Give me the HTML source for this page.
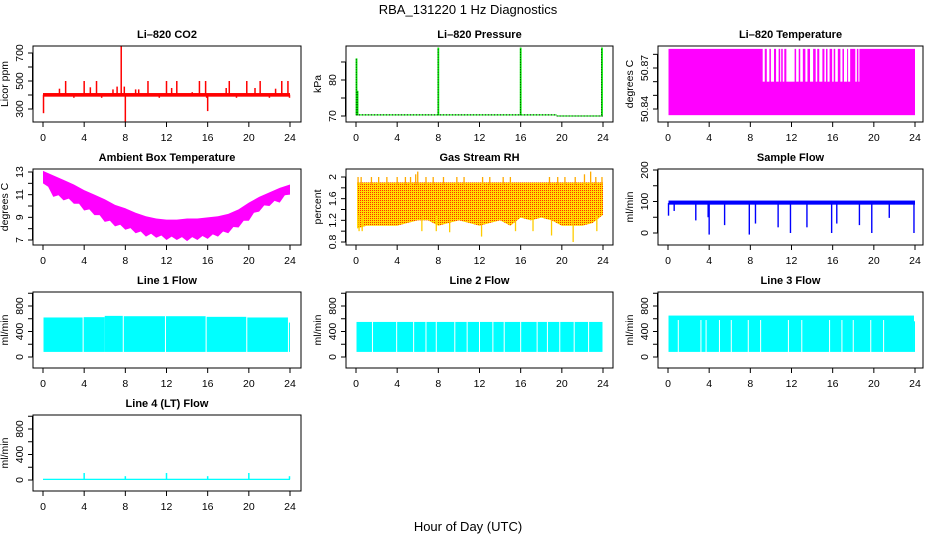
<!DOCTYPE html>
<html><head><meta charset="utf-8">
<style>
html,body{margin:0;padding:0;background:#fff;}
svg{display:block;font-family:"Liberation Sans",Arial,sans-serif;}
</style></head>
<body>
<svg id="chart" width="936" height="540" viewBox="0 0 936 540" xmlns="http://www.w3.org/2000/svg">
<defs>
<pattern id="rhpat" width="2" height="2" patternUnits="userSpaceOnUse">
<rect width="2" height="2" fill="#ffdd00"/><rect width="1" height="1" fill="#ff3000"/>
</pattern>
</defs>
<text x="468" y="14" text-anchor="middle" font-size="13">RBA_131220  1 Hz Diagnostics</text>
<text x="468" y="531" text-anchor="middle" font-size="13">Hour of Day (UTC)</text>
</svg>
<script>
// ---------- data ----------
const xTicks = [0,4,8,12,16,20,24];
// CO2
const co2Base = [388,414];
const co2Spikes = [[0.05,270],[0.1,410],[1.6,445],[2.2,500],[3.0,380],[4.0,500],[4.6,455],[5.2,500],[5.7,380],[6.8,440],[7.2,460],[7.6,750],[7.9,460],[8.0,210],[9.0,440],[9.3,440],[10.2,500],[11.3,380],[12.0,500],[12.5,450],[13.0,500],[14.5,420],[15.2,500],[15.8,500],[15.9,380],[16.0,285],[17.8,450],[18.1,500],[18.8,380],[19.8,500],[20.6,450],[21.1,500],[22.0,380],[22.6,445],[23.2,500],[23.8,500],[23.95,380]];
// Pressure
const presBase = [[0,19.5,70.3],[19.5,24,70.0]];
const presSpikes = [[0.05,86],[0.15,77],[8.0,89],[16.0,89],[23.9,89]];
// Li-820 temperature
const tempLo = 50.8355, tempHi = 50.884, tempMid = 50.86;
const tempGaps = [[9.2,9.4],[9.6,9.85],[10.0,10.3],[10.5,10.75],[10.9,11.0],[11.15,11.3],[11.5,12.3],[12.45,12.7],[12.85,13.1],[13.35,13.55],[13.8,14.1],[14.35,14.5],[14.7,15.0],[15.2,15.35],[15.5,15.7],[15.95,16.1],[16.25,16.5],[16.75,16.95],[17.1,17.4],[17.5,17.7],[18.2,18.35],[18.5,18.6]];
// Ambient box temperature (hourly envelope)
const ambTop = [13.1,12.7,12.3,11.9,11.4,11.0,10.6,10.1,9.8,9.4,9.1,8.9,8.8,8.8,8.9,8.9,9.0,9.1,9.3,9.7,10.3,10.8,11.2,11.6,11.9];
const ambBot = [12.0,10.8,10.5,10.2,9.6,9.2,8.6,8.2,7.9,7.6,7.3,7.2,7.0,7.0,6.9,7.0,7.1,7.3,7.6,8.1,8.7,9.5,10.0,10.3,11.0];
// Gas stream RH
const rhTop = 1.9;
const rhLow = [1.05,1.1,1.1,1.1,1.1,1.15,1.2,1.2,1.1,1.15,1.2,1.15,1.1,1.15,1.2,1.1,1.25,1.2,1.25,1.2,1.1,1.1,1.1,1.15,1.3];
const rhDips = [[0.3,1.0],[0.6,1.0],[6.4,1.0],[7.8,1.0],[9.1,0.98],[12.2,0.9],[15.5,1.0],[17.2,1.0],[19.0,0.92],[21.1,0.8],[23.4,1.0]];
const rhPeaks = [[0.2,2.0],[0.5,2.0],[1.5,2.0],[2.2,2.0],[3.0,2.0],[4.0,2.0],[4.8,2.0],[5.3,2.0],[5.8,2.05],[6.0,2.1],[6.8,2.0],[7.5,2.0],[8.5,2.0],[9.8,2.0],[10.5,2.0],[12.3,2.0],[13.0,2.0],[14.3,2.0],[15.0,2.0],[18.8,2.0],[19.6,2.0],[20.3,2.0],[21.3,2.0],[22.2,2.05],[22.8,2.1],[23.3,2.0],[23.9,2.0]];
// Sample flow
const sfBase = [90,103];
const sfDips = [[0.05,55],[0.6,70],[2.7,40],[3.9,50],[4.0,-5],[5.5,25],[7.9,-5],[8.5,30],[10.7,18],[11.9,0],[13.5,18],[15.9,0],[16.4,30],[18.6,25],[19.8,0],[21.5,48],[23.9,0]];
// Line flows
const l1Segs = [[0.05,3.85,620],[3.95,6.0,625],[6.0,7.75,645],[7.85,11.85,640],[11.95,15.8,640],[15.9,19.75,630],[19.85,23.8,620],[23.9,24.0,540]];
const l1Low = 80;
const l2Segs = [[0.05,23.95,550]];
const l2Gaps = [1.6,3.95,5.6,6.8,7.8,9.6,10.8,12.0,13.3,14.4,16.0,17.6,18.6,19.8,21.2,22.6];
const l2Low = 80;
const l3Segs = [[0.05,23.9,650],[23.9,24.0,560]];
const l3Gaps = [1.0,3.2,3.7,5.0,6.15,7.8,9.0,11.7,13.0,15.7,16.9,18.0,19.7,20.95];
const l3Low = 80;
const l4Base = [0,20];
const l4Spikes = [[4.0,110],[8.0,60],[12.0,110],[16.0,60],[20.0,110],[23.95,60]];

// ---------- layout ----------
const svg = document.getElementById('chart');
const NS = 'http://www.w3.org/2000/svg';
const colLeft = [33,346,658], colW = [268,267,265];
const rowTop = [46,169,292,415], PH = 76;

function mk(tag, attrs, parent){
  const e = document.createElementNS(NS, tag);
  for (const k in attrs) e.setAttribute(k, attrs[k]);
  (parent||svg).appendChild(e);
  return e;
}

function panel(col,row,name,title,ylab,lo,hi,ticks,labels){
  const L = colLeft[col], T = rowTop[row], W = colW[col];
  const g = mk('g',{});
  
  
  const p = {g,L,T,W,
    x:h=>L+10+h*247/24,
    y:v=>T+PH-(v-lo)/(hi-lo)*PH};
  const clip = mk('clipPath',{id:'clip-'+name},g);
  mk('rect',{x:L,y:T,width:W,height:PH},clip);
  p.plot = mk('g',{'clip-path':'url(#clip-'+name+')'},g);
  
  
  const t = mk('text',{x:L+W/2,y:T-8,'text-anchor':'middle','font-size':11,'font-weight':'bold'},g);
  t.textContent = title;
  
  
  const box = mk('rect',{x:L,y:T,width:W,height:PH,fill:'none',stroke:'#000','stroke-width':1},g);
  
  
  xTicks.forEach(h=>{
    mk('line',{x1:p.x(h),x2:p.x(h),y1:T+PH,y2:T+PH+5,stroke:'#000'},g);
    const tl = mk('text',{x:p.x(h),y:T+PH+19,'text-anchor':'middle','font-size':10.5},g);
    tl.textContent = h;
    
    
  });
  mk('line',{x1:L-0.5,x2:L-0.5,y1:p.y(ticks[0]),y2:p.y(ticks[ticks.length-1]),stroke:'#000'},g);
  ticks.forEach(v=>{
    mk('line',{x1:L-5,x2:L,y1:p.y(v),y2:p.y(v),stroke:'#000'},g);
  });
  labels.forEach(v=>{
    const tx = L-10, ty = p.y(v);
    const yl = mk('text',{x:tx,y:ty,'text-anchor':'middle','font-size':10.5,transform:`rotate(-90 ${tx} ${ty})`},g);
    yl.textContent = v;
    
    
  });
  const ax = L-25, ay = T+PH/2;
  const yt = mk('text',{x:ax,y:ay,'text-anchor':'middle','font-size':10.5,transform:`rotate(-90 ${ax} ${ay})`},g);
  yt.textContent = ylab;
  
  
  return p;
}
function vl(p,h,v1,v2,color,w){
  const e = mk('line',{x1:p.x(h),x2:p.x(h),y1:p.y(v1),y2:p.y(v2),stroke:color,'stroke-width':w||1.2},p.plot);
  
  
  return e;
}
function band(p,h1,h2,v1,v2,fill){
  const e = mk('rect',{x:p.x(h1),y:p.y(v2),width:Math.max(0.8,p.x(h2)-p.x(h1)),height:Math.max(0.8,p.y(v1)-p.y(v2)),fill:fill},p.plot);
  
  
  return e;
}

// 1 CO2
let p = panel(0,0,'co2-panel','Li\u2013820 CO2','Licor ppm',207.1,750,[300,400,500,600,700],[300,500,700]);
band(p,0,24,co2Base[0],co2Base[1],'#ff0000');
co2Spikes.forEach(s=>vl(p,s[0],402,s[1],'#ff0000',1.5));

// 2 Pressure
p = panel(1,0,'pressure-panel','Li\u2013820 Pressure','kPa',68.33,89.44,[70,75,80,85],[70,80]);
presBase.forEach(s=>band(p,s[0],s[1],s[2]-0.15,s[2]+0.15,'#00ee00'));
presBase.forEach(s=>{const e=mk('line',{x1:p.x(s[0]),x2:p.x(s[1]),y1:p.y(s[2]),y2:p.y(s[2]),stroke:'#000','stroke-dasharray':'1 2'},p.plot);});
presSpikes.forEach(s=>{vl(p,s[0],70.2,s[1],'#00ee00',1.8);const e=vl(p,s[0]-0.03,70.2,s[1],'#000',0.8);e.setAttribute('stroke-dasharray','1 1.5');});

// 3 Li-820 temperature
p = panel(2,0,'licor-temp-panel','Li\u2013820 Temperature','degrees C',50.8305,50.8861,[50.84,50.85,50.86,50.87,50.88],[50.84,50.87]);
band(p,0.05,24,tempLo,tempHi,'#ff00ff');
tempGaps.forEach(gp=>band(p,gp[0],gp[1],tempMid,tempHi+0.001,'#ffffff'));

// 4 Ambient
p = panel(0,1,'ambient-temp-panel','Ambient Box Temperature','degrees C',6.559,13.265,[7,8,9,10,11,12,13],[7,9,11,13]);
{
  let pts = ambTop.map((v,i)=>p.x(i)+','+p.y(v));
  for(let i=ambBot.length-1;i>=0;i--){pts.push(p.x(i)+','+p.y(ambBot[i]));
    if(i>0) pts.push(p.x(i-0.5)+','+p.y((ambBot[i]+ambBot[i-1])/2+0.3));}
  const e = mk('polygon',{points:pts.join(' '),fill:'#ff00ff'},p.plot);
  
  
}

// 5 RH
p = panel(1,1,'rh-panel','Gas Stream RH','percent',0.7446,2.1477,[0.8,1.0,1.2,1.4,1.6,1.8,2.0],[0.8,1.2,1.6,2.0]);
{
  let pts = [p.x(0.1)+','+p.y(rhTop), p.x(24)+','+p.y(rhTop)];
  for(let i=rhLow.length-1;i>=0;i--) pts.push(Math.min(p.x(i),p.x(24))+','+p.y(rhLow[i]));
  pts[pts.length-1] = p.x(0.1)+','+p.y(rhLow[0]);
  const e = mk('polygon',{points:pts.join(' '),fill:'url(#rhpat)'},p.plot);
  
  
}
rhDips.forEach(s=>vl(p,s[0],1.3,s[1],'#ffcc00',1.3));
rhPeaks.forEach(s=>vl(p,s[0],1.85,s[1],'#ffaa00',1.3));

// 6 Sample flow
p = panel(2,1,'sample-flow-panel','Sample Flow','ml/min',-38.1,203.2,[0,50,100,150,200],[0,100,200]);
band(p,0.05,24,sfBase[0],sfBase[1],'#0000ff');
sfDips.forEach(s=>vl(p,s[0],95,s[1],'#0000ff',1.4));

// 7-10 Line flows
const lfTicks=[0,200,400,600,800,1000], lfLabels=[0,400,800];
p = panel(0,2,'line1-flow-panel','Line 1 Flow','ml/min',-172.5,1019.6,lfTicks,lfLabels);
l1Segs.forEach(s=>band(p,s[0],s[1],l1Low,s[2],'#00ffff'));
p = panel(1,2,'line2-flow-panel','Line 2 Flow','ml/min',-172.5,1019.6,lfTicks,lfLabels);
l2Segs.forEach(s=>band(p,s[0],s[1],l2Low,s[2],'#00ffff'));
l2Gaps.forEach(h=>vl(p,h,l2Low-10,600,'#ffffff',1.0));
p = panel(2,2,'line3-flow-panel','Line 3 Flow','ml/min',-172.5,1019.6,lfTicks,lfLabels);
l3Segs.forEach(s=>band(p,s[0],s[1],l3Low,s[2],'#00ffff'));
l3Gaps.forEach(h=>vl(p,h,l3Low-10,580,'#ffffff',1.0));
p = panel(0,3,'line4-flow-panel','Line 4 (LT) Flow','ml/min',-172.5,1019.6,lfTicks,lfLabels);
band(p,0,24,l4Base[0],l4Base[1],'#00ffff');
l4Spikes.forEach(s=>vl(p,s[0],10,s[1],'#00ffff',1.5));
</script>
</body></html>
